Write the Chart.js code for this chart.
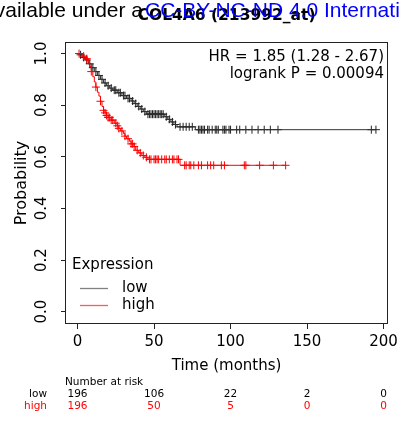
<!DOCTYPE html>
<html>
<head>
<meta charset="utf-8">
<script src="https://cdn.jsdelivr.net/npm/chart.js@4.4.0/dist/chart.umd.min.js"></script>
<style>
html, body { margin: 0; padding: 0; background: #fff; overflow: hidden; }
canvas { display: block; }
</style>
</head>
<body>
<canvas id="km" width="402" height="421"></canvas>
<script>
// tick labels
let xTicks = [0, 50, 100, 150, 200];
let yTicks = [0, 0.2, 0.4, 0.6, 0.8, 1.0];
let yTickLabels = ["0.0", "0.2", "0.4", "0.6", "0.8", "1.0"];

// low expression: step times (months) and survival after each step
let lowTimes = [0, 1, 3, 5, 7, 9, 11, 13, 15, 17, 19, 21, 23, 26, 29, 32, 35, 37, 39, 41, 43, 45, 57, 59, 61, 63, 65, 77];
let lowSurv = [1, 0.995, 0.985, 0.975, 0.96, 0.945, 0.93, 0.915, 0.9, 0.886, 0.875, 0.866, 0.858, 0.848, 0.837, 0.826, 0.816, 0.806, 0.795, 0.785, 0.775, 0.765, 0.755, 0.745, 0.735, 0.725, 0.716, 0.705];
let lowCensor = [2, 4, 6, 8, 10, 12, 14, 16, 18, 20, 22, 24, 25, 27, 28, 30, 31, 33, 34, 36, 38, 40, 42, 44, 46, 47, 48, 49, 50, 51, 52, 53, 54, 55, 56, 58, 60, 62, 64, 67, 69, 71, 73, 75, 79, 80, 81, 82, 83, 85, 86, 88, 90, 91, 92, 95, 96, 97, 99, 100, 104, 106, 110, 114, 118, 122, 126, 131, 192, 195];

// high expression
let highTimes = [0, 3, 5, 7, 8, 9, 10, 11, 12, 13, 14, 15, 16, 17, 18, 19, 20, 22, 24, 26, 27, 28, 30, 31, 32, 34, 35, 37, 38, 40, 42, 44, 46, 67];
let highSurv = [1, 0.99, 0.98, 0.965, 0.95, 0.93, 0.91, 0.89, 0.87, 0.85, 0.835, 0.815, 0.795, 0.78, 0.77, 0.76, 0.752, 0.742, 0.73, 0.72, 0.71, 0.7, 0.69, 0.68, 0.67, 0.66, 0.65, 0.64, 0.625, 0.615, 0.605, 0.598, 0.59, 0.567];
let highCensor = [1, 4, 6, 9, 12, 15, 17, 18, 19, 20, 21, 22, 23, 25, 26, 27, 29, 31, 33, 35, 36, 37, 39, 41, 43, 45, 47, 48, 50, 51, 52, 53, 55, 57, 58, 60, 62, 63, 65, 66, 70, 71, 73, 74, 76, 79, 81, 85, 87, 89, 94, 96, 109, 110, 119, 128, 136];

// number at risk
let riskTimes = [0, 50, 100, 150, 200];
let riskLow = [196, 106, 22, 2, 0];
let riskHigh = [196, 50, 5, 0, 0];

let FONT = "'DejaVu Sans', Verdana, sans-serif";

function survAt(times, surv, t) {
    let s = surv[0];
    for (let i = 0; i < times.length; i++) {
        if (times[i] <= t) s = surv[i];
    }
    return s;
}

function stepPoints(times, surv, censor) {
    let pts = times.map((t, i) => ({ x: t, y: surv[i] }));
    pts.push({ x: censor[censor.length - 1], y: surv[surv.length - 1] });
    return pts;
}

function censorPoints(times, surv, censor) {
    return censor.map(t => ({ x: t, y: survAt(times, surv, t) }));
}

let extras = {
    id: 'extras',
    afterDraw(chart) {
        let ctx = chart.ctx;
        let a = chart.chartArea;
        let x = chart.scales.x;
        let y = chart.scales.y;
        ctx.save();

        // box
        ctx.strokeStyle = '#222';
        ctx.lineWidth = 1;
        ctx.strokeRect(Math.round(a.left) - 0.5, Math.round(a.top) - 0.5, Math.round(a.right - a.left) + 1, Math.round(a.bottom - a.top) + 1);

        ctx.fillStyle = '#000';
        ctx.textAlign = 'center';
        ctx.textBaseline = 'middle';

        // y tick labels, rotated
        ctx.font = '15px ' + FONT;
        yTicks.forEach((v, i) => {
            ctx.save();
            ctx.translate(42, y.getPixelForValue(v));
            ctx.rotate(-Math.PI / 2);
            ctx.fillText(yTickLabels[i], 0, 0);
            ctx.restore();
        });

        // axis titles
        ctx.save();
        ctx.font = '16px ' + FONT;
        ctx.translate(22, (a.top + a.bottom) / 2);
        ctx.rotate(-Math.PI / 2);
        ctx.fillText('Probability', 0, 0);
        ctx.restore();
        ctx.font = '15px ' + FONT;
        ctx.fillText('Time (months)', (a.left + a.right) / 2, 366);

        // HR text
        ctx.textAlign = 'right';
        ctx.fillText('HR = 1.85 (1.28 - 2.67)', 384, 57);
        ctx.fillText('logrank P = 0.00094', 384, 74);

        // legend
        ctx.textAlign = 'left';
        ctx.fillText('Expression', 72, 265);
        ctx.fillText('low', 122, 288);
        ctx.fillText('high', 122, 305);
        ctx.lineWidth = 1.3;
        ctx.strokeStyle = '#808080';
        ctx.beginPath(); ctx.moveTo(80, 288.5); ctx.lineTo(108, 288.5); ctx.stroke();
        ctx.strokeStyle = '#ff5a5a';
        ctx.beginPath(); ctx.moveTo(80, 305.5); ctx.lineTo(108, 305.5); ctx.stroke();

        // number at risk table
        ctx.font = '10.5px ' + FONT;
        ctx.fillStyle = '#000';
        ctx.fillText('Number at risk', 65, 382);
        ctx.textAlign = 'right';
        ctx.fillText('low', 47, 394);
        ctx.fillStyle = '#ff0000';
        ctx.fillText('high', 47, 406.5);
        ctx.textAlign = 'center';
        riskTimes.forEach((t, i) => {
            let px = x.getPixelForValue(t);
            ctx.fillStyle = '#000';
            ctx.fillText(String(riskLow[i]), px, 394);
            ctx.fillStyle = '#ff0000';
            ctx.fillText(String(riskHigh[i]), px, 406.5);
        });

        // title
        ctx.fillStyle = '#000';
        ctx.font = 'bold 15.5px ' + FONT;
        ctx.textBaseline = 'alphabetic';
        ctx.fillText('COL4A6 (213992_at)', (a.left + a.right) / 2, 20);

        // page text bleeding in at the top
        ctx.font = "21px 'Liberation Sans', Arial, sans-serif";
        ctx.textAlign = 'right';
        ctx.fillText('vailable under a', 143, 17);
        ctx.textAlign = 'left';
        ctx.fillStyle = '#0000ff';
        ctx.fillText('CC-BY-NC-ND 4.0 Internati', 145, 17);

        ctx.restore();
    }
};

let canvas = document.getElementById('km');

let chart = new Chart(canvas, {
    type: 'scatter',
    data: {
        datasets: [
            {
                label: 'high',
                data: stepPoints(highTimes, highSurv, highCensor),
                showLine: true,
                stepped: true,
                borderColor: '#ff0000',
                borderWidth: 1,
                pointRadius: 0
            },
            {
                label: 'high censored',
                data: censorPoints(highTimes, highSurv, highCensor),
                showLine: false,
                pointStyle: 'cross',
                pointRadius: 4,
                borderColor: '#ff0000',
                pointBorderWidth: 1
            },
            {
                label: 'low',
                data: stepPoints(lowTimes, lowSurv, lowCensor),
                showLine: true,
                stepped: true,
                borderColor: '#333',
                borderWidth: 1,
                pointRadius: 0
            },
            {
                label: 'low censored',
                data: censorPoints(lowTimes, lowSurv, lowCensor),
                showLine: false,
                pointStyle: 'cross',
                pointRadius: 4,
                borderColor: '#222',
                pointBorderWidth: 1
            }
        ]
    },
    options: {
        responsive: false,
        animation: false,
        events: [],
        layout: { padding: { left: 0, top: 43, right: 10, bottom: 0 } },
        plugins: {
            legend: { display: false },
            tooltip: { enabled: false }
        },
        scales: {
            x: {
                type: 'linear',
                min: -7.53,
                max: 202.3,
                afterBuildTicks: s => { s.ticks = xTicks.map(v => ({ value: v })); },
                afterFit: s => { s.height = 98; },
                border: { display: false },
                grid: { drawOnChartArea: false, tickLength: 6, color: '#222' },
                ticks: {
                    color: '#000',
                    font: { family: FONT, size: 15 },
                    padding: 4,
                    maxRotation: 0,
                    autoSkip: false,
                    callback: v => String(v)
                }
            },
            y: {
                type: 'linear',
                min: -0.0438,
                max: 1.0407,
                afterBuildTicks: s => { s.ticks = yTicks.map(v => ({ value: v })); },
                afterFit: s => { s.width = 66; },
                border: { display: false },
                grid: { drawOnChartArea: false, tickLength: 5, color: '#222' },
                ticks: { display: false }
            }
        }
    },
    plugins: [extras]
});
</script>
</body>
</html>
